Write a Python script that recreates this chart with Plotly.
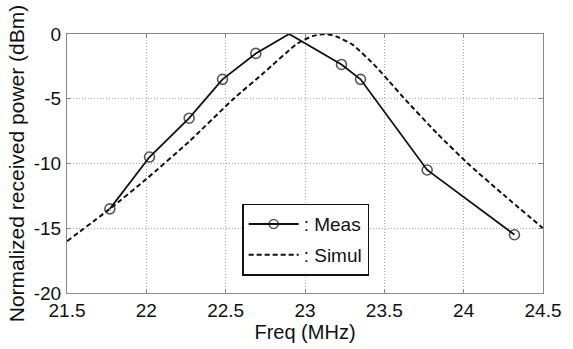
import plotly.graph_objects as go

meas_x = [21.77, 22.02, 22.27, 22.48, 22.69, 22.9, 23.23, 23.35, 23.77, 24.32]
meas_y = [-13.5, -9.5, -6.5, -3.5, -1.5, 0.0, -2.35, -3.5, -10.5, -15.5]
meas_marker_size = [10, 10, 10, 10, 10, 0, 10, 10, 10, 10]

sim_x = [21.5, 21.77, 22.0, 22.27, 22.55, 22.74, 22.95, 23.05, 23.13, 23.2, 23.3, 23.43, 23.53, 23.62, 23.83, 24.04, 24.25, 24.5]
sim_y = [-16.0, -13.5, -11.2, -8.3, -5.0, -3.0, -0.75, -0.15, 0.0, -0.2, -0.82, -2.3, -3.65, -4.9, -7.65, -10.15, -12.4, -15.0]

x_ticks = [21.5, 22, 22.5, 23, 23.5, 24, 24.5]
x_ticklabels = ["21.5", "22", "22.5", "23", "23.5", "24", "24.5"]
y_ticks = [-20, -15, -10, -5, 0]
y_ticklabels = ["-20", "-15", "-10", "-5", "0"]

FONT = "Liberation Sans, Arial, sans-serif"

fig = go.Figure()
fig.add_trace(go.Scatter(
    x=meas_x, y=meas_y, mode="lines+markers", name=": Meas", legendgroup="a",
    line=dict(color="#111", width=1.8),
    marker=dict(symbol="circle-open", size=meas_marker_size, color="#111",
                line=dict(width=1.6, color="#111")),
))
fig.add_trace(go.Scatter(
    x=sim_x, y=sim_y, mode="lines", name=": Simul", legendgroup="b",
    line=dict(color="#111", width=2, dash="5px,3px", shape="spline", smoothing=0.5),
))

axis_common = dict(
    showline=True, linecolor="#888", linewidth=1, mirror="ticks",
    ticks="inside", ticklen=4, tickcolor="#888",
    showgrid=True, gridcolor="#aaa", gridwidth=1, griddash="1px,2px",
    zeroline=False,
    tickfont=dict(family=FONT, size=19, color="#111"),
)

fig.update_xaxes(
    range=[21.5, 24.5], tickvals=x_ticks, ticktext=x_ticklabels,
    title=dict(text="Freq (MHz)", font=dict(family=FONT, size=20, color="#111"), standoff=2),
    **axis_common,
)
fig.update_yaxes(
    range=[-20, 0], tickvals=y_ticks, ticktext=y_ticklabels,
    title=dict(text="Normalized received power (dBm)", font=dict(family=FONT, size=21, color="#111"), standoff=3),
    ticklabelstandoff=1,
    **axis_common,
)

fig.update_layout(
    width=573, height=349,
    margin=dict(l=67, r=29, t=34, b=47),
    paper_bgcolor="white", plot_bgcolor="white",
    showlegend=True,
    legend=dict(
        x=0.368, y=0.345, xanchor="left", yanchor="top",
        bgcolor="white", bordercolor="#111", borderwidth=1.5,
        font=dict(family=FONT, size=19, color="#111"),
        itemwidth=50, tracegroupgap=3, traceorder="grouped",
    ),
)

fig.write_html("out.html")
